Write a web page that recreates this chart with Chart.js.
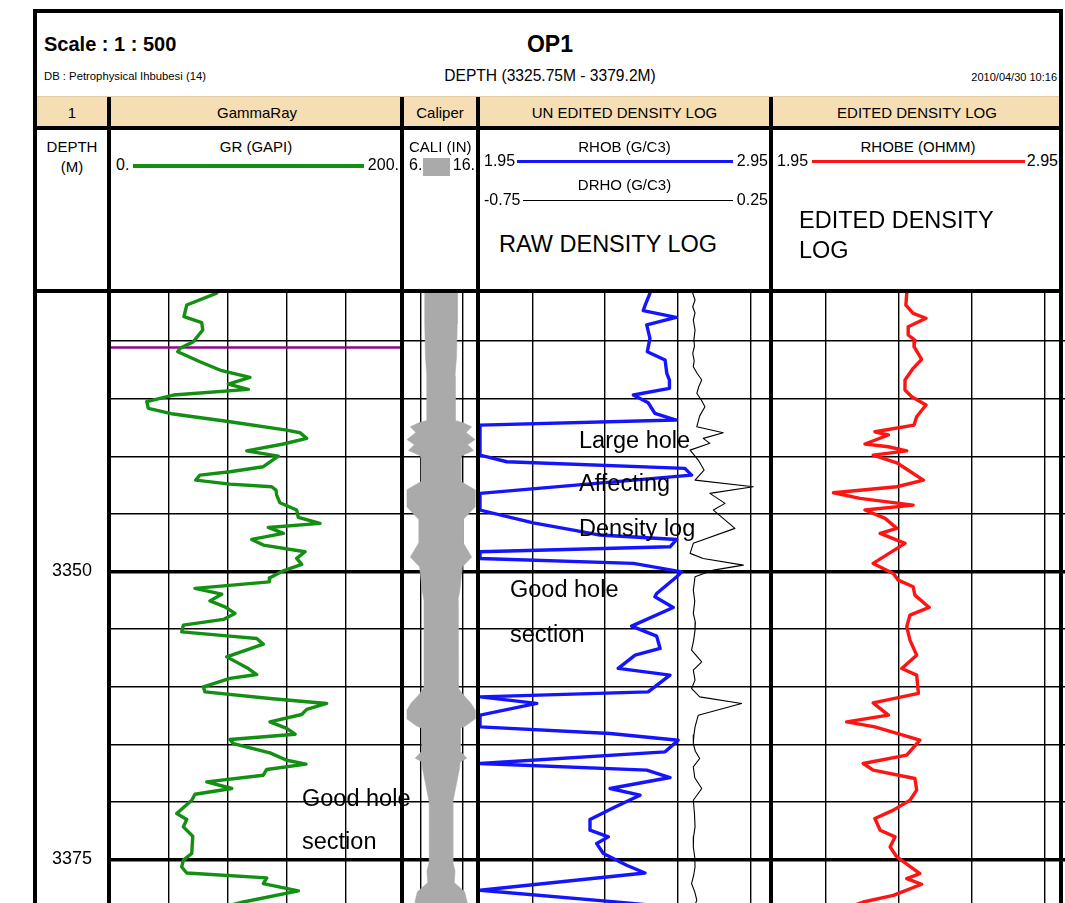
<!DOCTYPE html>
<html>
<head>
<meta charset="utf-8">
<title>OP1 density log</title>
<script src="https://cdn.jsdelivr.net/npm/chart.js@4.4.1/dist/chart.umd.min.js"></script>
<style>
  html, body { margin: 0; padding: 0; background: #fff; overflow: hidden; }
  #sheet { position: relative; width: 1065px; height: 903px; overflow: hidden;
           font-family: "Liberation Sans", Arial, sans-serif; color: #000; background: #fff; }
  #sheet canvas { position: absolute; z-index: 1; }
  .rule { position: absolute; background: #000; z-index: 2; }
  .band { position: absolute; background: #f5deb3; z-index: 0; }
  .t { position: absolute; white-space: nowrap; line-height: 1; z-index: 3; }
</style>
</head>
<body>
<div id="sheet"></div>
<script>
// ---- depth frame ----
const DEPTH_TOP = 3325.75;
const DEPTH_BOTTOM = 3379.2;
const DEPTH_GRID = [3330, 3335, 3340, 3345, 3350, 3355, 3360, 3365, 3370, 3375];
const DEPTH_LABELS = [3350, 3375];

// ---- curve scales (left, right) ----
const GR_SCALE = [0, 200];
const CALI_SCALE = [6, 16];
const RHOB_SCALE = [1.95, 2.95];
const DRHO_SCALE = [-0.75, 0.25];
const RHOBE_SCALE = [1.95, 2.95];

// ---- vertical grid values per track ----
const GR_GRID = [40, 80, 120, 160];
const CALI_GRID = [8.25, 13.9];
const DENS_GRID = [2.13, 2.38, 2.63, 2.88];

// ---- formation marker ----
const MARKER_DEPTH = 3330.57;

// ---- GR (GAPI) ----
const GR_DEPTH = [3325.85, 3326.88, 3327.89, 3328.41, 3329.05, 3330.06, 3330.64, 3330.93, 3331.80, 3332.58,
  3333.15, 3333.74, 3334.20, 3334.69, 3335.27, 3335.85, 3336.34, 3337.01, 3337.73, 3337.96,
  3338.45, 3338.94, 3339.53, 3339.99, 3340.91, 3341.35, 3341.64, 3342.07, 3342.42, 3342.65,
  3342.94, 3343.37, 3344.04, 3344.67, 3345.31, 3345.83, 3346.18, 3346.70, 3347.22, 3347.71,
  3348.29, 3348.87, 3349.39, 3349.94, 3350.55, 3350.90, 3351.47, 3351.97, 3352.55, 3353.07,
  3353.64, 3354.16, 3354.66, 3355.24, 3355.61, 3355.81, 3356.31, 3357.41, 3358.42, 3358.94,
  3359.28, 3360.01, 3360.45, 3361.02, 3361.45, 3361.97, 3362.41, 3363.05, 3363.62, 3364.12,
  3364.58, 3364.93, 3365.74, 3366.38, 3366.72, 3367.18, 3367.68, 3368.26, 3368.83, 3369.33,
  3369.85, 3371.00, 3371.52, 3372.16, 3372.97, 3374.47, 3375.05, 3375.64, 3376.16, 3376.59,
  3377.08, 3377.72, 3378.68, 3379.20];
const GR = [72.6, 52.2, 50.3, 62.4, 63.1, 56.7, 47.6, 46.1, 61.2, 76.0,
  95.2, 80.5, 94.1, 43.1, 25.0, 26.1, 43.1, 81.6, 120.2, 129.3,
  133.8, 117.9, 93.0, 114.5, 104.3, 81.6, 61.2, 58.3, 81.6, 110.0,
  112.9, 113.4, 115.6, 127.0, 128.1, 142.9, 107.7, 117.9, 96.4, 104.3,
  132.7, 127.0, 130.4, 117.9, 108.8, 108.4, 57.8, 76.0, 68.0, 78.2,
  85.0, 77.1, 49.9, 48.8, 81.6, 99.8, 104.3, 79.4, 94.1, 99.8,
  81.6, 63.5, 64.6, 108.8, 147.4, 133.8, 130.4, 108.8, 120.2, 125.9,
  81.6, 83.9, 108.8, 120.2, 133.3, 106.6, 104.3, 65.8, 82.8, 57.8,
  55.6, 45.4, 52.2, 49.9, 56.3, 55.6, 49.9, 48.8, 52.2, 106.6,
  104.3, 128.1, 90.7, 75.0];

// ---- CALI (IN) ----
const CALI_DEPTH = [3325.75, 3328.5, 3331.4, 3333.0, 3335.1, 3336.9, 3337.1, 3337.45, 3337.95, 3338.55,
  3339.0, 3339.5, 3339.95, 3340.2, 3342.2, 3342.9, 3344.4, 3345.5, 3347.5, 3348.75,
  3349.6, 3351.6, 3352.5, 3356.0, 3360.1, 3360.7, 3361.4, 3362.0, 3362.8, 3363.4,
  3363.6, 3365.6, 3366.2, 3366.5, 3367.1, 3370.0, 3375.2, 3376.0, 3377.0, 3377.8,
  3378.6, 3379.2];
const CALI = [13.2, 13.2, 13.1, 12.9, 12.95, 12.9, 14.0, 15.15, 14.4, 15.6,
  14.6, 15.4, 13.8, 13.7, 13.7, 15.6, 15.6, 14.0, 14.0, 15.15,
  13.9, 13.55, 13.3, 13.3, 13.35, 14.0, 15.0, 15.6, 15.6, 14.3,
  13.6, 13.6, 14.5, 13.6, 13.5, 12.6, 12.6, 12.9, 12.8, 14.2,
  14.5, 14.5];

// ---- RHOB (G/C3), un-edited ----
const RHOB_DEPTH = [3325.86, 3326.73, 3327.37, 3327.95, 3328.61, 3329.77, 3330.93, 3331.65, 3332.81, 3333.39,
  3334.11, 3334.69, 3335.36, 3336.28, 3336.86, 3337.30, 3339.90, 3340.48, 3341.05, 3341.64,
  3343.22, 3344.67, 3345.78, 3346.41, 3346.84, 3347.22, 3347.86, 3348.29, 3348.87, 3349.30,
  3350.03, 3350.46, 3351.91, 3352.20, 3353.12, 3354.74, 3355.61, 3356.68, 3357.26, 3358.41,
  3358.99, 3360.45, 3360.88, 3361.45, 3362.47, 3363.48, 3364.06, 3364.64, 3365.65, 3366.66,
  3367.24, 3367.88, 3368.83, 3369.41, 3370.43, 3371.52, 3372.45, 3373.03, 3373.61, 3374.47,
  3375.49, 3376.16, 3377.66, 3378.76, 3379.20];
const RHOB = [2.534, 2.520, 2.511, 2.624, 2.523, 2.534, 2.525, 2.586, 2.592, 2.601,
  2.601, 2.477, 2.528, 2.551, 2.624, 1.95, 1.95, 2.042, 2.654, 2.677,
  1.95, 1.95, 2.133, 2.271, 2.362, 2.626, 2.603, 1.95, 1.95, 2.477,
  2.643, 2.626, 2.557, 2.551, 2.614, 2.471, 2.557, 2.569, 2.483, 2.425,
  2.603, 2.528, 1.95, 2.145, 1.95, 1.95, 2.397, 2.631, 2.586, 1.95,
  2.523, 2.603, 2.397, 2.500, 2.414, 2.328, 2.328, 2.391, 2.351, 2.374,
  2.454, 2.517, 1.95, 2.454, 2.64];

// ---- DRHO (G/C3) ----
const DRHO_DEPTH = [3325.86, 3326.44, 3327.03, 3327.57, 3328.18, 3329.05, 3329.90, 3330.44, 3331.07, 3331.70,
  3332.23, 3332.80, 3333.39, 3333.95, 3334.54, 3335.10, 3335.71, 3336.50, 3337.44, 3337.96,
  3338.45, 3338.88, 3339.47, 3340.33, 3341.20, 3342.07, 3342.65, 3343.22, 3344.09, 3344.67,
  3346.26, 3347.56, 3348.43, 3348.87, 3349.45, 3349.88, 3350.46, 3351.62, 3352.60, 3353.64,
  3354.40, 3355.09, 3356.00, 3356.83, 3357.84, 3358.56, 3359.43, 3360.15, 3360.88, 3361.45,
  3362.47, 3363.48, 3364.20, 3364.93, 3365.60, 3366.23, 3366.96, 3367.90, 3368.83, 3369.85,
  3371.00, 3372.16, 3373.00, 3373.90, 3374.80, 3375.64, 3376.40, 3377.08, 3377.80, 3378.52,
  3379.20];
const DRHO = [-0.019, -0.011, -0.019, -0.011, -0.017, -0.011, -0.015, -0.013, -0.019, -0.014,
  -0.017, -0.004, 0.012, 0.002, -0.005, 0.010, 0.023, 0.005, -0.005, 0.086,
  0.017, 0.040, -0.028, 0.000, 0.020, -0.011, 0.189, 0.040, 0.092, 0.052,
  0.126, -0.017, -0.028, 0.017, 0.155, 0.052, -0.011, -0.017, -0.012, -0.017,
  -0.010, -0.011, -0.016, -0.023, 0.012, -0.017, -0.011, -0.023, 0.005, 0.149,
  0.000, -0.011, -0.015, -0.017, -0.010, 0.005, -0.017, -0.012, 0.012, -0.017,
  -0.013, -0.011, -0.016, -0.017, -0.012, -0.011, -0.016, -0.023, -0.012, -0.005,
  -0.015];

// ---- RHOBE, edited density ----
const RHOBE_DEPTH = [3325.86, 3326.88, 3327.60, 3328.03, 3328.76, 3329.48, 3329.92, 3330.50, 3331.59, 3332.37,
  3333.39, 3334.26, 3334.84, 3335.56, 3336.57, 3337.30, 3337.88, 3338.16, 3338.94, 3339.18,
  3339.53, 3339.90, 3340.57, 3342.07, 3342.65, 3343.17, 3343.66, 3344.24, 3344.67, 3345.39,
  3346.26, 3346.70, 3347.56, 3349.30, 3350.17, 3350.75, 3351.33, 3352.05, 3353.12, 3353.79,
  3354.80, 3355.96, 3357.26, 3358.42, 3358.99, 3360.58, 3361.40, 3362.47, 3363.05, 3363.48,
  3364.64, 3365.94, 3366.66, 3367.24, 3367.96, 3368.97, 3369.85, 3370.71, 3371.44, 3372.45,
  3373.03, 3373.90, 3374.77, 3376.21, 3376.65, 3377.14, 3378.10, 3378.68, 3379.20];
const RHOBE = [2.408, 2.405, 2.430, 2.474, 2.413, 2.413, 2.436, 2.433, 2.459, 2.430,
  2.402, 2.402, 2.425, 2.474, 2.442, 2.433, 2.299, 2.345, 2.265, 2.345,
  2.408, 2.293, 2.374, 2.465, 2.374, 2.157, 2.248, 2.430, 2.265, 2.334,
  2.374, 2.317, 2.402, 2.293, 2.362, 2.379, 2.430, 2.436, 2.485, 2.419,
  2.408, 2.419, 2.442, 2.391, 2.442, 2.448, 2.293, 2.345, 2.202, 2.299,
  2.453, 2.408, 2.259, 2.293, 2.436, 2.442, 2.419, 2.362, 2.299, 2.317,
  2.368, 2.351, 2.374, 2.453, 2.408, 2.459, 2.362, 2.259, 2.20];

// ---- annotations written on the log ----
const NOTES = [
  { text: 'Large hole', x: 579, base: 448.5 },
  { text: 'Affecting', x: 579, base: 492 },
  { text: 'Density log', x: 579, base: 537 },
  { text: 'Good hole', x: 510, base: 598 },
  { text: 'section', x: 510, base: 643 },
  { text: 'Good hole', x: 302, base: 807 },
  { text: 'section', x: 302, base: 850 }
];

// ---------------------------------------------------------------
const sheet = document.getElementById('sheet');
const PLOT_TOP = 292;
const PLOT_H = 616;
const GRID_COLOR = '#000';

function rule(left, top, width, height, color) {
  const d = document.createElement('div');
  d.className = 'rule';
  Object.assign(d.style, { left: left + 'px', top: top + 'px', width: width + 'px', height: height + 'px' });
  if (color) d.style.background = color;
  sheet.appendChild(d);
  return d;
}

function txt(s, x, base, size, opts = {}) {
  const el = document.createElement('div');
  el.className = 't';
  el.textContent = s;
  el.style.fontSize = size + 'px';
  el.style.fontWeight = opts.weight || 'normal';
  el.style.top = (base - 0.8465 * size) + 'px';
  const align = opts.align || 'left';
  if (align === 'left') el.style.left = x + 'px';
  else if (align === 'right') el.style.right = (1065 - x) + 'px';
  else { el.style.left = x + 'px'; el.style.transform = 'translateX(-50%)'; }
  sheet.appendChild(el);
  return el;
}

const fmt = v => Number.isInteger(v) ? v + '.' : v.toFixed(2);
const pts = (xs, ys) => ys.map((d, i) => ({ x: xs[i], y: d }));

function track(left, width, scale, xGrid, datasets, yGrid = true) {
  const cv = document.createElement('canvas');
  cv.width = width; cv.height = PLOT_H;
  cv.style.left = left + 'px'; cv.style.top = PLOT_TOP + 'px';
  cv.style.width = width + 'px'; cv.style.height = PLOT_H + 'px';
  sheet.appendChild(cv);
  return new Chart(cv, {
    type: 'line',
    data: { datasets },
    options: {
      responsive: false, animation: false, devicePixelRatio: 1, events: [],
      layout: { padding: 0 },
      plugins: { legend: { display: false }, tooltip: { enabled: false } },
      elements: { point: { radius: 0, hoverRadius: 0 }, line: { tension: 0, borderJoinStyle: 'round', borderCapStyle: 'round' } },
      scales: {
        x: {
          type: 'linear', position: 'top', min: scale[0], max: scale[1],
          ticks: { display: false }, border: { display: false },
          grid: { display: xGrid.length > 0, drawTicks: false, color: GRID_COLOR, lineWidth: 1.4 },
          afterBuildTicks: s => { s.ticks = xGrid.map(v => ({ value: v })); }
        },
        y: {
          type: 'linear', reverse: true, min: DEPTH_TOP, max: DEPTH_BOTTOM,
          ticks: { display: false }, border: { display: false },
          grid: {
            display: yGrid, drawTicks: false, color: GRID_COLOR,
            lineWidth: c => (c.tick && c.tick.value % 25 === 0) ? 3.6 : 1.4
          },
          afterBuildTicks: s => { s.ticks = DEPTH_GRID.map(v => ({ value: v })); }
        }
      }
    }
  });
}

// ---- tracks ----
const depthChart = track(37, 70, [0, 1], [], [], false);

track(110, 294, GR_SCALE, GR_GRID, [
  { data: pts(GR, GR_DEPTH), borderColor: '#138f13', borderWidth: 3.4, fill: false },
  { data: [{ x: GR_SCALE[0], y: MARKER_DEPTH }, { x: GR_SCALE[1], y: MARKER_DEPTH }],
    borderColor: '#8c0a8c', borderWidth: 2.6, fill: false }
]);

// borehole profile: caliper on the right, mirrored about the track centre on the left
const caliMid = (CALI_SCALE[0] + CALI_SCALE[1]) / 2;
const caliShape = pts(CALI, CALI_DEPTH)
  .concat(pts(CALI.map(v => 2 * caliMid - v), CALI_DEPTH).reverse());
track(404, 74, CALI_SCALE, CALI_GRID, [
  { data: caliShape, borderColor: '#aaaaaa', backgroundColor: '#aaaaaa', borderWidth: 0.5, fill: 'shape' }
]);

track(480, 291, RHOB_SCALE, DENS_GRID, [
  { data: pts(DRHO.map(v => v - DRHO_SCALE[0] + RHOB_SCALE[0]), DRHO_DEPTH),
    borderColor: '#000', borderWidth: 1.1, fill: false },
  { data: pts(RHOB, RHOB_DEPTH), borderColor: '#1414ff', borderWidth: 3.4, fill: false }
]);

track(773, 292, RHOBE_SCALE, DENS_GRID, [
  { data: pts(RHOBE, RHOBE_DEPTH), borderColor: '#ff1414', borderWidth: 3.4, fill: false }
]);

// ---- frame and dividers ----
rule(33, 9, 1030, 4);            // top
rule(33, 9, 4, 900);             // left
rule(1059, 9, 4, 900);           // right
const band = document.createElement('div');
band.className = 'band';
Object.assign(band.style, { left: '37px', top: '97px', width: '1022px', height: '29px' });
sheet.appendChild(band);
rule(37, 96, 1022, 1, '#e2cda4');
rule(33, 126, 1030, 4);          // under track titles
rule(33, 289, 1030, 4);          // top of log area
[107, 400, 476, 769].forEach(x => rule(x, 97, 4, 810));

// ---- title block ----
txt('Scale : 1 : 500', 44, 51.3, 20, { weight: 'bold' });
txt('OP1', 550, 52, 23, { weight: 'bold', align: 'center' });
txt('DB : Petrophysical Ihbubesi (14)', 44, 81, 11.3);
txt('DEPTH (' + DEPTH_TOP + 'M - ' + DEPTH_BOTTOM + 'M)', 550, 81, 15.6, { align: 'center' });
txt('2010/04/30 10:16', 1057, 81, 11, { align: 'right' });

// ---- track titles ----
txt('1', 72, 117.4, 15, { align: 'center' });
txt('GammaRay', 257, 117.4, 15, { align: 'center' });
txt('Caliper', 440, 117.4, 15, { align: 'center' });
txt('UN EDITED DENSITY LOG', 624.5, 117.4, 15, { align: 'center' });
txt('EDITED DENSITY LOG', 917, 117.4, 15, { align: 'center' });

// ---- curve headers ----
txt('DEPTH', 72, 151.5, 15, { align: 'center' });
txt('(M)', 72, 171.5, 15, { align: 'center' });

txt('GR (GAPI)', 256, 151.5, 15, { align: 'center' });
txt(fmt(GR_SCALE[0]), 116, 171, 16);
txt(fmt(GR_SCALE[1]), 399, 171, 16, { align: 'right' });
rule(133, 164, 231, 3.5, '#138f13');

txt('CALI (IN)', 409, 151.5, 15);
txt(fmt(CALI_SCALE[0]), 409, 171, 16);
txt(fmt(CALI_SCALE[1]), 475, 171, 16, { align: 'right' });
rule(423, 158, 27, 18, '#aaaaaa');

txt('RHOB (G/C3)', 624.5, 151.5, 15, { align: 'center' });
txt(fmt(RHOB_SCALE[0]), 484, 167, 16);
txt(fmt(RHOB_SCALE[1]), 768, 167, 16, { align: 'right' });
rule(517, 159.5, 216, 3.5, '#1414ff');

txt('DRHO (G/C3)', 624.5, 189.5, 15, { align: 'center' });
txt(fmt(DRHO_SCALE[0]), 484, 205.5, 16);
txt(fmt(DRHO_SCALE[1]), 768, 205.5, 16, { align: 'right' });
rule(523, 199.5, 210, 1.2);

txt('RAW DENSITY LOG', 499, 252.5, 23.5);

txt('RHOBE (OHMM)', 918, 151.5, 15, { align: 'center' });
txt(fmt(RHOBE_SCALE[0]), 777, 167, 16);
txt(fmt(RHOBE_SCALE[1]), 1058, 167, 16, { align: 'right' });
rule(812, 159.5, 213, 3.5, '#ff1414');

txt('EDITED DENSITY', 799, 228.5, 23.5);
txt('LOG', 799, 258.5, 23.5);

// ---- depth labels placed through the depth scale ----
DEPTH_LABELS.forEach(v => {
  const y = PLOT_TOP + depthChart.scales.y.getPixelForValue(v);
  txt(String(v), 72, y + 0.358 * 18 - 1.5, 18, { align: 'center' });
});

// ---- notes ----
NOTES.forEach(n => txt(n.text, n.x, n.base, 23.5));
</script>
</body>
</html>
